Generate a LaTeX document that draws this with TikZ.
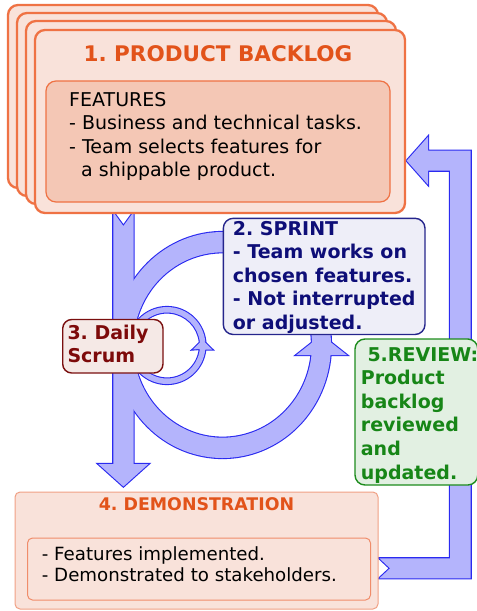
\documentclass[tikz,border=0pt]{standalone}
\usepackage{fontspec}
\setmainfont{DejaVu Sans}
\frenchspacing
\definecolor{arrowF}{HTML}{B4B4FC}
\definecolor{arrowD}{HTML}{2A2AF0}
\definecolor{blFill}{HTML}{F9E2DA}
\definecolor{blDraw}{HTML}{EF7244}
\definecolor{blInner}{HTML}{F4C7B5}
\definecolor{blTitle}{HTML}{E2531A}
\definecolor{spFill}{HTML}{EEEEF8}
\definecolor{spDraw}{HTML}{25258C}
\definecolor{spText}{HTML}{0E0E78}
\definecolor{dsFill}{HTML}{F5E9E6}
\definecolor{dsDraw}{HTML}{7A0F0F}
\definecolor{dsText}{HTML}{7D0A0A}
\definecolor{rvFill}{HTML}{E2F0E2}
\definecolor{rvDraw}{HTML}{1D8C1D}
\definecolor{rvText}{HTML}{178617}
\definecolor{dmDraw}{HTML}{F0A084}
\definecolor{dmInner}{HTML}{F08C6A}
\begin{document}
\begin{tikzpicture}[x=1pt,y=-1pt,
  arrowline/.style={draw=arrowD,line width=2.2pt,line join=miter},
  arrowfill/.style={fill=arrowF},
  card/.style={draw=blDraw,fill=blFill,line width=2.3pt,rounded corners=10pt},
  innerbox/.style={draw=blDraw,fill=blInner,line width=1.2pt,rounded corners=10pt},
  sprintbox/.style={draw=spDraw,fill=spFill,line width=1.4pt,rounded corners=10pt},
  scrumbox/.style={draw=dsDraw,fill=dsFill,line width=1.4pt,rounded corners=9pt},
  reviewbox/.style={draw=rvDraw,fill=rvFill,line width=1.4pt,rounded corners=10pt},
  demobox/.style={draw=dmDraw,fill=blFill,line width=1pt,rounded corners=5pt},
  demoinner/.style={draw=dmInner,fill=blFill,line width=1pt,rounded corners=5pt},
  txt/.style={inner sep=0pt,anchor=base west},
  bodyfont/.style={font=\fontsize{19}{23}\selectfont,text=black},
  sprintfont/.style={font=\fontsize{19}{23}\selectfont\bfseries,text=spText},
  scrumfont/.style={font=\fontsize{19}{23}\selectfont\bfseries,text=dsText},
  reviewfont/.style={font=\fontsize{19}{23}\selectfont\bfseries,text=rvText},
  demofont/.style={font=\fontsize{18.2}{22}\selectfont,text=black}
]
\useasboundingbox (0,0) rectangle (477,611);

% arrow shapes
\def\vertarrow{(113.3,212) -- (123.4,226) -- (133.5,212) -- (133.5,464) -- (148.5,464) -- (123.4,486.5) -- (98.3,464) -- (113.3,464) -- cycle}
\def\bigarc{(241.42,233.72) arc[start angle=280,end angle=-8,x radius=108.4,y radius=113] -- (311.13,332.10) arc[start angle=-8,end angle=280,x radius=89.4,y radius=92.7] -- cycle}
\def\bighead{(296.3,355) -- (321.6,335) -- (346.9,355) -- cycle}
\def\smallloop{(205.29,341.48) arc[start angle=-6,end angle=-354,radius=38.5] -- (212.2,349.5) -- (202.5,340) -- (192.8,349.5) -- (199.82,348.95) arc[start angle=-354,end angle=-6,radius=33] -- cycle}
\def\reviewarrow{(379.3,558.3) -- (390,568.3) -- (379.3,578.3) -- (470.7,578.3) -- (470.7,150.7) -- (428,150.7) -- (428,136.7) -- (406.7,160.7) -- (428,184.7) -- (428,170.7) -- (450,170.7) -- (450,558.3) -- cycle}

\draw[arrowline] \vertarrow;
\draw[arrowline] \bigarc;
\draw[arrowline] \bighead;
\draw[arrowline] \smallloop;
\draw[arrowline] \reviewarrow;
\fill[arrowfill] \vertarrow;
\fill[arrowfill] \bigarc;
\fill[arrowfill] \bighead;
\fill[arrowfill] \smallloop;
\fill[arrowfill] \reviewarrow;

% product backlog stack
\draw[card] (8,5) rectangle (378,188);
\draw[card] (17,13) rectangle (387,196);
\draw[card] (26,21) rectangle (396,204);
\draw[card] (35,30) rectangle (405,213);
\draw[innerbox] (46,81) rectangle (390,202);
\node[inner sep=0pt,anchor=base,font=\fontsize{21.5}{26}\selectfont\bfseries,text=blTitle] (bltitle) at (218,61) {1. PRODUCT BACKLOG};
\node[txt,bodyfont] (bl1) at (69,106.5) {FEATURES};
\node[txt,bodyfont] (bl2) at (69,129.8) {- Business and technical tasks.};
\node[txt,bodyfont] (bl3) at (69,153.1) {- Team selects features for};
\node[txt,bodyfont] (bl4) at (81,176.4) {a shippable product.};

% sprint
\draw[sprintbox] (223.3,218.3) rectangle (425,334.5);
\node[txt,sprintfont] (sp1) at (232.7,235) {2. SPRINT};
\node[txt,sprintfont] (sp2) at (232.7,258.6) {- Team works on};
\node[txt,sprintfont] (sp3) at (232.7,282.2) {chosen features.};
\node[txt,sprintfont] (sp4) at (232.7,305.8) {- Not interrupted};
\node[txt,sprintfont] (sp5) at (232.7,329.4) {or adjusted.};

% daily scrum
\draw[scrumbox] (62.7,319.5) rectangle (163,373);
\node[txt,scrumfont] (ds1) at (67.3,339.3) {3. Daily};
\node[txt,scrumfont] (ds2) at (67.3,362.5) {Scrum};

% review
\draw[reviewbox] (355,339) rectangle (477.8,485);
\node[txt,reviewfont] (rv1) at (367.3,361) {5.REVIEW:};
\node[txt,reviewfont] (rv2) at (360.7,384.6) {Product};
\node[txt,reviewfont] (rv3) at (360.7,408.2) {backlog};
\node[txt,reviewfont] (rv4) at (360.7,431.8) {reviewed};
\node[txt,reviewfont] (rv5) at (360.7,455.4) {and};
\node[txt,reviewfont] (rv6) at (360.7,479) {updated.};

% demonstration
\draw[demobox] (15,492) rectangle (378,609);
\draw[demoinner] (27.5,538) rectangle (370.5,600);
\node[inner sep=0pt,anchor=base,font=\fontsize{17.4}{21}\selectfont\bfseries,text=blTitle] (dmtitle) at (196.5,510.7) {4. DEMONSTRATION};
\node[txt,demofont] (dm1) at (41.7,560) {- Features implemented.};
\node[txt,demofont] (dm2) at (41.7,581.7) {- Demonstrated to stakeholders.};
\end{tikzpicture}
\end{document}
